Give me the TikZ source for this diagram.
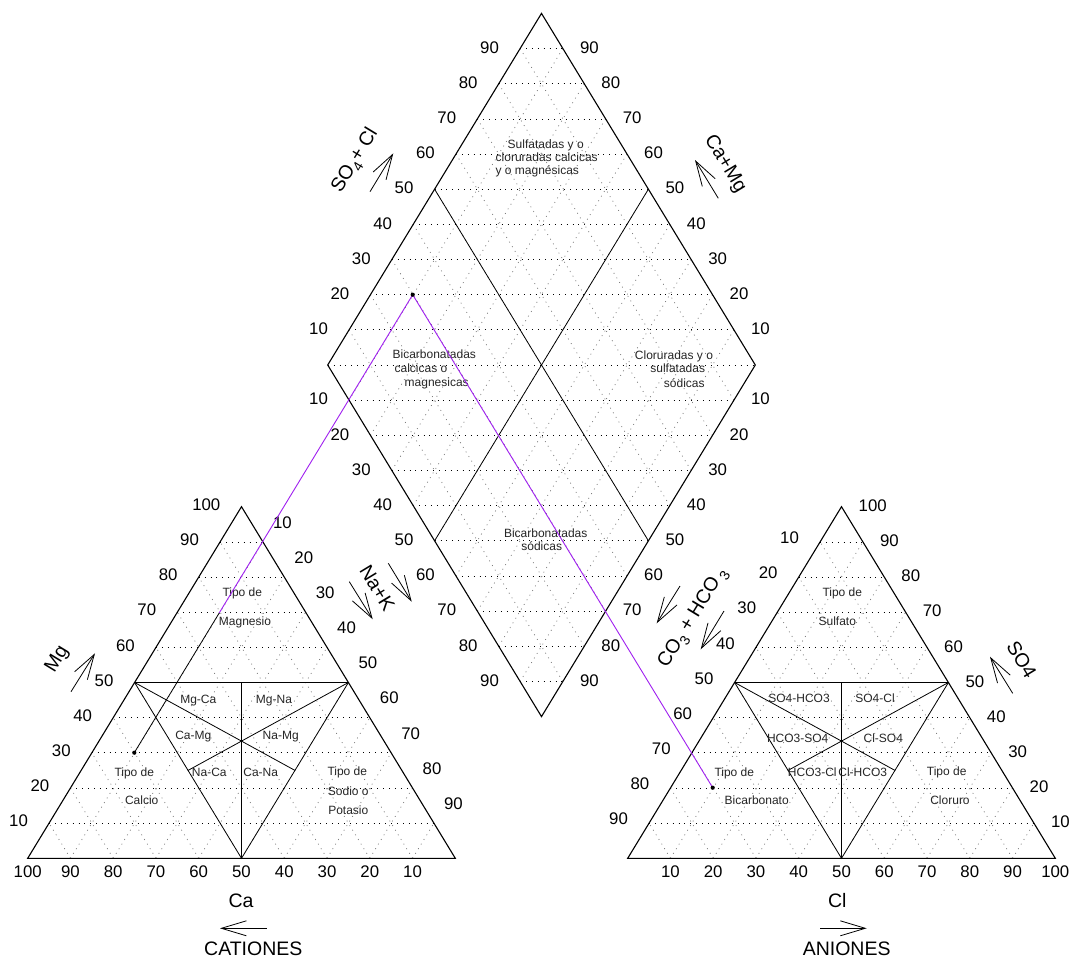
\documentclass[tikz,border=0pt]{standalone}
\usepackage{fontspec}
\setmainfont{Liberation Sans}
\usetikzlibrary{arrows.meta,calc}
\definecolor{smp}{HTML}{A020F0}
\newcommand\lowsub[1]{\raisebox{-0.28em}{\fontsize{14}{14}\selectfont #1}}
\begin{document}
\begin{tikzpicture}[x=1pt,y=-1pt,
  outline/.style={line width=1.1pt, line join=miter},
  innerln/.style={line width=0.8pt},
  hgrid/.style={line width=0.7pt, dash pattern=on 0.9pt off 5pt, black},
  dgrid/.style={line width=0.7pt, dash pattern=on 0.9pt off 4.5pt, black!55},
  tick/.style={font=\fontsize{16.8}{18}\selectfont, inner sep=0pt},
  zone/.style={font=\fontsize{12}{14}\selectfont, inner sep=0pt, anchor=base, text=black!85},
  ttl/.style={font=\fontsize{19.5}{22}\selectfont, inner sep=0pt},
  barb/.style={line width=0.8pt, -{Straight Barb[length=25pt,width=15pt,line width=0.8pt]}},
  samp/.style={draw=smp, line width=0.9pt},
]
\useasboundingbox (0,0) rectangle (1072,958);
\fill[white] (0,0) rectangle (1072,958);

% ---------- corner coordinates ----------
\coordinate (A) at (27.7,858.3);  \coordinate (B) at (455.3,858.3); \coordinate (C) at (241.5,506.7);
\coordinate (D) at (627.7,858.3); \coordinate (E) at (1055.3,858.3); \coordinate (F) at (841.5,506.7);
\coordinate (T) at (541.5,13.4);  \coordinate (L) at (327.7,365);    \coordinate (R) at (755.3,365);
\coordinate (Bm) at (541.5,716.6);

% ---------- grids: triangles ----------
\foreach \ox in {27.7,627.7}{
  \foreach \i in {1,...,9}{
    \draw[hgrid] ({\ox+21.38*\i},{858.3-35.16*\i}) -- ({\ox+427.6-21.38*\i},{858.3-35.16*\i});
    \draw[dgrid] ({\ox+42.76*\i},858.3) -- ({\ox+42.76*\i+21.38*(10-\i)},{858.3-35.16*(10-\i)});
    \draw[dgrid] ({\ox+42.76*\i},858.3) -- ({\ox+21.38*\i},{858.3-35.16*\i});
  }
}
% ---------- grids: diamond ----------
\draw[hgrid] (L) -- (R);
\foreach \i in {1,...,9}{
  \draw[hgrid] ({327.7+21.38*\i},{365-35.16*\i}) -- ({755.3-21.38*\i},{365-35.16*\i});
  \draw[hgrid] ({327.7+21.38*\i},{365+35.16*\i}) -- ({755.3-21.38*\i},{365+35.16*\i});
  \draw[dgrid] ({327.7+21.38*\i},{365+35.16*\i}) -- ({541.5+21.38*\i},{13.4+35.16*\i});
  \draw[dgrid] ({327.7+21.38*\i},{365-35.16*\i}) -- ({541.5+21.38*\i},{716.6-35.16*\i});
}

% ---------- outlines ----------
\draw[outline] (A) -- (B) -- (C) -- cycle;
\draw[outline] (D) -- (E) -- (F) -- cycle;
\draw[outline] (T) -- (R) -- (Bm) -- (L) -- cycle;

% ---------- inner division lines ----------
\foreach \ox/\nm in {27.7/l,627.7/r}{
  \coordinate (\nm1) at ({\ox+106.9},682.5);
  \coordinate (\nm2) at ({\ox+320.7},682.5);
  \coordinate (\nm3) at ({\ox+213.8},858.3);
  \draw[innerln] (\nm1) -- (\nm2) -- (\nm3) -- cycle;
  \draw[innerln] (\nm3) -- ($(\nm1)!0.5!(\nm2)$);
  \draw[innerln] (\nm1) -- ($(\nm2)!0.5!(\nm3)$);
  \draw[innerln] (\nm2) -- ($(\nm1)!0.5!(\nm3)$);
}
\draw[innerln] ($(L)!0.5!(T)$) -- ($(R)!0.5!(Bm)$);
\draw[innerln] ($(R)!0.5!(T)$) -- ($(L)!0.5!(Bm)$);

% ---------- tick labels: cation triangle ----------
\foreach \k [evaluate=\k as \v using {int(100-10*\k)}] in {0,...,9}
  \node[tick] (ca\k) at ({27.7+42.76*\k},871.7) {\v};
\foreach \i [evaluate=\i as \v using {int(10*\i)}] in {1,...,10}
  \node[tick,anchor=east] (mg\i) at ({27.7+21.38*\i-21},{858.3-35.16*\i-2}) {\v};
\foreach \i [evaluate=\i as \v using {int(10*\i)}] in {1,...,9}
  \node[tick] (na\i) at ({241.5+21.38*\i+19.5},{506.7+35.16*\i-19.5}) {\v};

% ---------- tick labels: anion triangle ----------
\foreach \k [evaluate=\k as \v using {int(10*\k)}] in {1,...,10}
  \node[tick] (cl\k) at ({627.7+42.76*\k},871.7) {\v};
\foreach \i [evaluate=\i as \v using {int(10*\i)}] in {1,...,9}
  \node[tick,anchor=east] (hc\i) at ({841.5-21.38*\i-21},{506.7+35.16*\i-4}) {\v};
\foreach \i [evaluate=\i as \v using {int(10*\i)}] in {1,...,10}
  \node[tick,anchor=west] (so\i) at ({1055.3-21.38*\i+17},{858.3-35.16*\i-1}) {\v};

% ---------- tick labels: diamond ----------
\foreach \i [evaluate=\i as \v using {int(10*\i)}] in {1,...,9}{
  \node[tick,anchor=east] (dul\i) at ({327.7+21.38*\i-21},{365-35.16*\i-1}) {\v};
  \node[tick,anchor=west] (dur\i) at ({755.3-21.38*\i+17},{365-35.16*\i-1}) {\v};
  \node[tick,anchor=east] (dll\i) at ({327.7+21.38*\i-21},{365+35.16*\i-1}) {\v};
  \node[tick,anchor=west] (dlr\i) at ({755.3-21.38*\i+17},{365+35.16*\i-1}) {\v};
}

% ---------- zone labels ----------
\node[zone] (z1) at (242.3,596.3) {Tipo de};
\node[zone] (z2) at (245,625) {Magnesio};
\node[zone] (z3) at (198.3,703) {Mg-Ca};
\node[zone] (z4) at (274,703) {Mg-Na};
\node[zone] (z5) at (193.3,739.7) {Ca-Mg};
\node[zone] (z6) at (280.7,739.7) {Na-Mg};
\node[zone] (z7) at (209.3,776.7) {Na-Ca};
\node[zone] (z8) at (260.7,776.7) {Ca-Na};
\node[zone] (z9) at (134.3,776.3) {Tipo de};
\node[zone] (z10) at (141.7,804) {Calcio};
\node[zone] (z11) at (347.3,775) {Tipo de};
\node[zone] (z12) at (348.3,795) {Sodio o};
\node[zone] (z13) at (348.3,814) {Potasio};

\node[zone] (y1) at (842.3,596.3) {Tipo de};
\node[zone] (y2) at (837.3,625) {Sulfato};
\node[zone] (y3) at (799,702.3) {SO4-HCO3};
\node[zone] (y4) at (875,702.3) {SO4-Cl};
\node[zone] (y5) at (797.7,742.3) {HCO3-SO4};
\node[zone] (y6) at (883.3,742.3) {Cl-SO4};
\node[zone] (y7) at (812.3,776.3) {HCO3-Cl};
\node[zone] (y8) at (862.7,776.3) {Cl-HCO3};
\node[zone] (y9) at (734.3,776.3) {Tipo de};
\node[zone] (y10) at (756.7,804) {Bicarbonato};
\node[zone] (y11) at (946.7,775) {Tipo de};
\node[zone] (y12) at (950,804) {Cloruro};

\node[zone] (x1) at (545.7,149) {Sulfatadas y o};
\node[zone] (x2) at (546.7,161.7) {cloruradas calcicas};
\node[zone] (x3) at (537.3,174) {y o magnésicas};
\node[zone] (x4) at (434.3,358) {Bicarbonatadas};
\node[zone] (x5) at (421,372) {calcicas o};
\node[zone] (x6) at (436.7,386.3) {magnesicas};
\node[zone] (x7) at (674,359) {Cloruradas y o};
\node[zone] (x8) at (677.7,372) {sulfatadas};
\node[zone] (x9) at (684.3,387) {sódicas};
\node[zone] (x10) at (545.7,537.3) {Bicarbonatadas};
\node[zone] (x11) at (541.7,550.7) {sódicas};

% ---------- axis titles ----------
\node[ttl] (tCa) at (241,900.7) {Ca};
\node[ttl] (tCat) at (253.3,948.3) {CATIONES};
\node[ttl] (tCl) at (837.3,900.7) {Cl};
\node[ttl] (tAn) at (846.7,948.3) {ANIONES};
\node[ttl,rotate=58.7] (tMg) at (57.5,659.5) {Mg};
\node[ttl,rotate=58.7] (tSC) at (355.7,160.7) {SO\lowsub{4}+ Cl};
\node[ttl,rotate=-58.7] (tCM) at (725,164) {Ca+Mg};
\node[ttl,rotate=-58.7] (tNK) at (377.3,588.3) {Na+K};
\node[ttl,rotate=58.7] (tCH) at (693.3,618.3) {CO\lowsub{3} + HCO\,\lowsub{3}};
\node[ttl,rotate=-58.7] (tSO) at (1021.7,660) {SO4};

% ---------- direction arrows ----------
\draw[barb] (266.7,928.3) -- (220,928.3);
\draw[barb] (820,928.3) -- (866.7,928.3);
\draw[barb] (71,691.7) -- (95,653.3);
\draw[barb] (370,191.7) -- (393.3,153.3);
\draw[barb] (718.3,198.3) -- (695,160);
\draw[barb] (349.3,581.7) -- (372.7,619.3);
\draw[barb] (388.3,563.3) -- (411.7,601.7);
\draw[barb] (680,586) -- (656.7,623.3);
\draw[barb] (724,611) -- (700.7,649.3);
\draw[barb] (1012.7,693.3) -- (990,656.7);

% ---------- sample projection ----------
\coordinate (pc) at (134.3,752.7);
\coordinate (pd) at (412.7,294.7);
\coordinate (pa) at (712.7,787.7);
\coordinate (pm) at (219.2,613);
\draw[samp] (pm) -- (pd) -- (pa);
\draw[innerln] (pc) -- (pm);
\fill (pc) circle (2.1pt);
\fill (pd) circle (2.1pt);
\fill (pa) circle (2.1pt);
\end{tikzpicture}
\end{document}
